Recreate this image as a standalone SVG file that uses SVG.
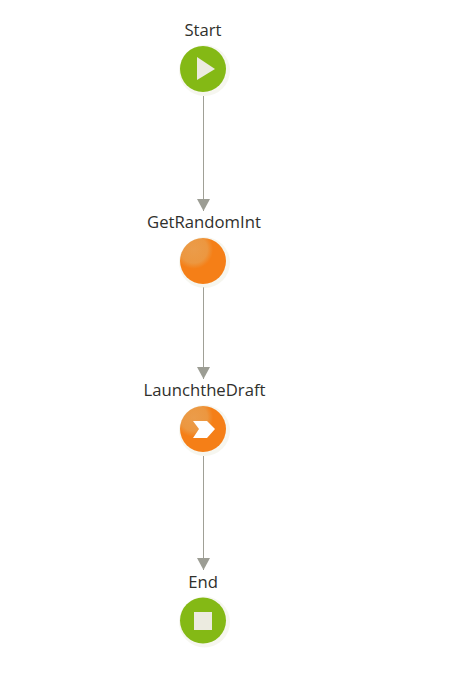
<svg xmlns="http://www.w3.org/2000/svg" width="452" height="700" viewBox="0 0 452 700">
<style>
.lbl{font-family:"Open Sans","Noto Sans","DejaVu Sans",sans-serif;font-size:16.700px;fill:#30302c;text-anchor:middle}
.ln{stroke:#a0a096;stroke-width:1;fill:none;marker-end:url(#ah)}
.halo{fill:#ecebdc;opacity:.45}
.g{fill:#84b915}
.o{fill:#f57f17}
.ic{fill:#ecebe0}
</style>
<defs>
<marker id="ah" markerUnits="userSpaceOnUse" markerWidth="13" markerHeight="13" refX="12" refY="6.500" orient="auto" viewBox="0 0 13 13"><path d="M0 0L12 6.500L0 13Z" fill="#9c9d94"/></marker>
<radialGradient id="sh" cx=".3" cy=".25" r=".42"><stop offset="0" stop-color="#eb9c4a"/><stop offset=".7" stop-color="#ec9740"/><stop offset="1" stop-color="#f57f17"/></radialGradient>
</defs>
<rect width="452" height="700" fill="#fff"/>
<g id="connectors">
<path class="ln" d="M203.500 96V211"/>
<path class="ln" d="M203.500 287V379"/>
<path class="ln" d="M203.500 456V570"/>
</g>
<g id="start">
<text class="lbl" x="203" y="36">Start</text>
<circle class="halo" cx="204.500" cy="70.500" r="25.500"/><circle class="g" cx="203" cy="69" r="23"/>
<path class="ic" d="M197 57L215 69L197 80Z"/>
</g>
<g id="getrandomint">
<text class="lbl" x="204" y="228">GetRandomInt</text>
<circle class="halo" cx="204.500" cy="262.500" r="25.500"/><circle fill="url(#sh)" cx="203" cy="261" r="23"/>
</g>
<g id="launchthedraft">
<text class="lbl" x="204.500" y="396">LaunchtheDraft</text>
<circle class="halo" cx="204.500" cy="430.500" r="25.500"/><circle fill="url(#sh)" cx="203" cy="429" r="23"/>
<path d="M193 421H207L215 429L207 438H193L199 429Z" fill="#fff"/>
</g>
<g id="end">
<text class="lbl" x="203" y="588">End</text>
<circle class="halo" cx="204.500" cy="622" r="25.500"/><circle class="g" cx="203" cy="620.500" r="23"/>
<rect class="ic" x="194" y="612" width="18" height="18"/>
</g>
</svg>
